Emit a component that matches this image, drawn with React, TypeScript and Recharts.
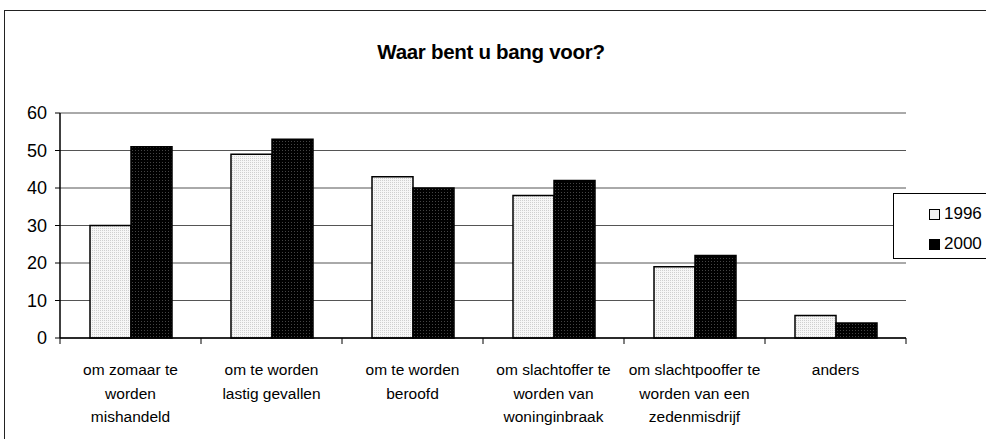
import { BarChart, Bar, XAxis, YAxis, CartesianGrid, Legend } from "recharts";

const categories = [
  "om zomaar te\nworden\nmishandeld",
  "om te worden\nlastig gevallen",
  "om te worden\nberoofd",
  "om slachtoffer te\nworden van\nwoninginbraak",
  "om slachtpooffer te\nworden van een\nzedenmisdrijf",
  "anders",
];
const values1996 = [30, 49, 43, 38, 19, 6];
const values2000 = [51, 53, 40, 42, 22, 4];
const yTicks = [0, 10, 20, 30, 40, 50, 60];
const seriesNames = ["1996", "2000"];

const data = categories.map((name, i) => ({
  name,
  [seriesNames[0]]: values1996[i],
  [seriesNames[1]]: values2000[i],
}));

const font = "'Liberation Sans', Arial, sans-serif";

function XTick(props: any) {
  const { x, y, payload, index } = props;
  const half = payload.offset ?? 0;
  const lines = String(payload.value).split("\n");
  return (
    <g>
      <line x1={x - half} x2={x - half} y1={y} y2={y + 6} stroke="#000" />
      {index === categories.length - 1 && (
        <line x1={x + half} x2={x + half} y1={y} y2={y + 6} stroke="#000" />
      )}
      {lines.map((l, i) => (
        <text
          key={i}
          x={x}
          y={y + 37 + i * 23.5}
          textAnchor="middle"
          fontSize={15.5}
          fontFamily={font}
          fill="#000"
        >
          {l}
        </text>
      ))}
    </g>
  );
}

function LegendBox() {
  const swatch = ["#f2f2f2", "#000"];
  return (
    <div
      style={{
        width: 110,
        height: 64,
        border: "1px solid #000",
        background: "#fff",
        position: "relative",
        fontFamily: font,
        fontSize: 17,
      }}
    >
      {seriesNames.map((s, i) => (
        <div key={s} style={{ position: "absolute", left: 35, top: 10 + i * 30, display: "flex", alignItems: "center" }}>
          <span
            style={{
              display: "inline-block",
              width: 9,
              height: 9,
              border: "1px solid #000",
              background: swatch[i],
              marginRight: 4,
            }}
          />
          <span>{s}</span>
        </div>
      ))}
    </div>
  );
}

export default function App() {
  return (
    <div style={{ position: "absolute", left: 0, top: 0, width: 986, height: 439, overflow: "hidden", background: "#fff" }}>
      <div
        style={{
          position: "absolute",
          left: 4,
          top: 10,
          width: 1100,
          height: 600,
          border: "1.5px solid #222",
        }}
      />
      <div
        style={{
          position: "absolute",
          left: 0,
          top: 40,
          width: 982,
          textAlign: "center",
          fontFamily: font,
          fontWeight: "bold",
          fontSize: 20.5,
          letterSpacing: -0.3,
        }}
      >
        Waar bent u bang voor?
      </div>
      <div style={{ position: "absolute", left: 0, top: 0 }}>
        <BarChart
          width={986}
          height={439}
          data={data}
          margin={{ top: 113, right: 80, bottom: 11, left: 10 }}
          barCategoryGap={30}
          barGap={0}
        >
          <defs>
            <pattern id="p1996" patternUnits="userSpaceOnUse" width="2" height="2">
              <rect width="2" height="2" fill="#f6f6f6" />
              <rect width="1" height="1" fill="#cfcfcf" />
            </pattern>
            <pattern id="p2000" patternUnits="userSpaceOnUse" width="3" height="3">
              <rect width="3" height="3" fill="#000" />
              <rect width="1" height="1" fill="#444" />
            </pattern>
          </defs>
          <CartesianGrid vertical={false} stroke="#555" strokeWidth={1} />
          <XAxis
            dataKey="name"
            height={90}
            interval={0}
            tickLine={false}
            tickSize={0}
            tickMargin={0}
            axisLine={{ stroke: "#000", strokeWidth: 1.5 }}
            tick={<XTick />}
          />
          <YAxis
            width={50}
            domain={[0, 60]}
            ticks={yTicks}
            interval={0}
            tickSize={5}
            tickMargin={8}
            axisLine={{ stroke: "#000", strokeWidth: 1.5 }}
            tickLine={{ stroke: "#000" }}
            tick={{ fontSize: 18, fontFamily: font, fill: "#000" }}
          />
          <YAxis
            yAxisId="r"
            orientation="right"
            width={0}
            tick={false}
            tickLine={false}
            axisLine={{ stroke: "#808080", strokeWidth: 1.5 }}
          />
          <Legend
            layout="horizontal"
            align="center"
            verticalAlign="middle"
            wrapperStyle={{ left: 893, top: 193, width: 112 }}
            content={() => <LegendBox />}
          />
          <Bar dataKey={seriesNames[0]} fill="url(#p1996)" stroke="#000" strokeWidth={1.5} isAnimationActive={false} />
          <Bar dataKey={seriesNames[1]} fill="url(#p2000)" stroke="#000" strokeWidth={1.5} isAnimationActive={false} />
        </BarChart>
      </div>
    </div>
  );
}
